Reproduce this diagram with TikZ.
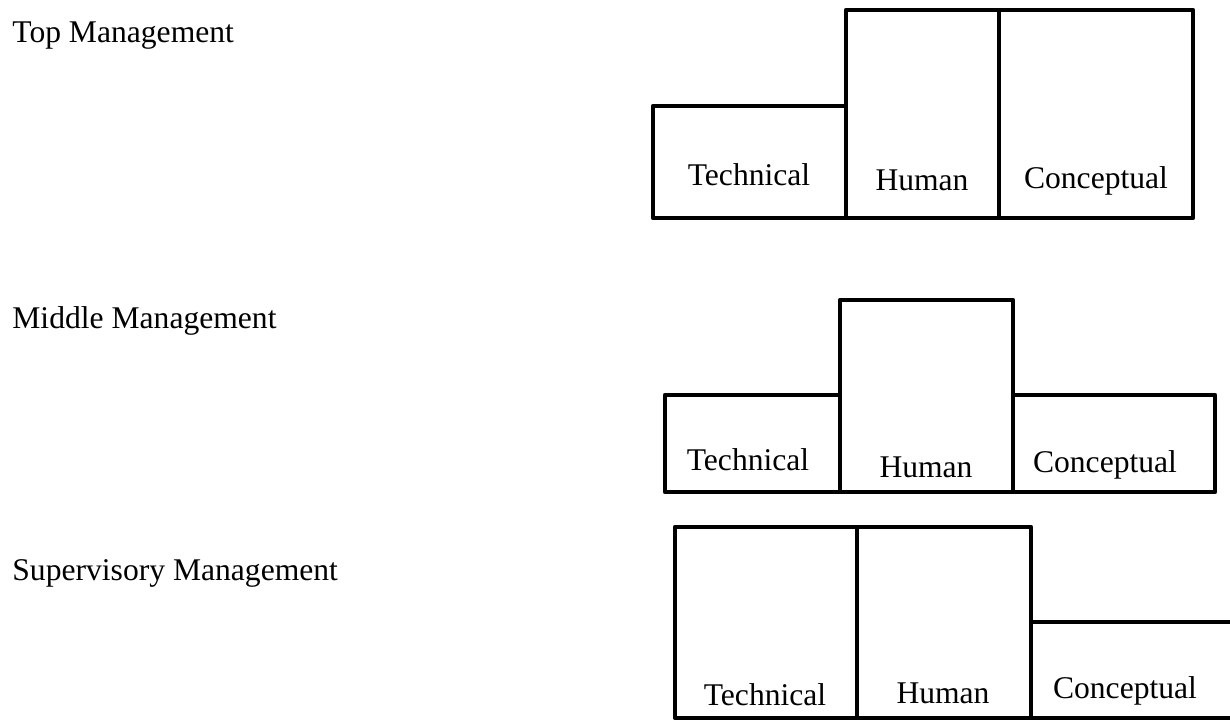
\documentclass[tikz,border=0pt]{standalone}
\usepackage{fontspec}
\setmainfont{Liberation Serif}
\tikzset{bar/.style={draw,line width=2.4pt,line join=round},
  skill/.style={anchor=base,inner sep=0pt,font=\fontsize{15.8}{19}\selectfont},
  level/.style={anchor=base west,inner sep=0pt,font=\fontsize{15.8}{19}\selectfont}}

\begin{document}
\begin{tikzpicture}[x=0.5pt,y=-0.5pt]
\useasboundingbox (0,0) rectangle (1230,719);
% level names
\node[level] (top) at (12,42) {Top Management};
\node[level] (mid) at (12,328) {Middle Management};
\node[level] (sup) at (12,580) {Supervisory Management};
% top management
\draw[bar] (653,106) rectangle (846,218);
\draw[bar] (846,10) rectangle (999,218);
\draw[bar] (999,10) rectangle (1193,218);
\node[skill] (topT) at (749,185) {Technical};
\node[skill] (topH) at (922,190) {Human};
\node[skill] (topC) at (1096,188) {Conceptual};
% middle management
\draw[bar] (665,395) rectangle (840,492);
\draw[bar] (840,300) rectangle (1013,492);
\draw[bar] (1013,395) rectangle (1215,492);
\node[skill] (midT) at (748,470) {Technical};
\node[skill] (midH) at (926,477) {Human};
\node[skill] (midC) at (1105,472) {Conceptual};
% supervisory management
\draw[bar] (675,527) rectangle (857,718);
\draw[bar] (857,527) rectangle (1031,718);
\draw[bar] (1240,622) -- (1031,622) -- (1031,718) -- (1240,718);
\node[skill] (supT) at (765,705) {Technical};
\node[skill] (supH) at (943,703) {Human};
\node[skill] (supC) at (1125,698) {Conceptual};
\end{tikzpicture}
\end{document}
